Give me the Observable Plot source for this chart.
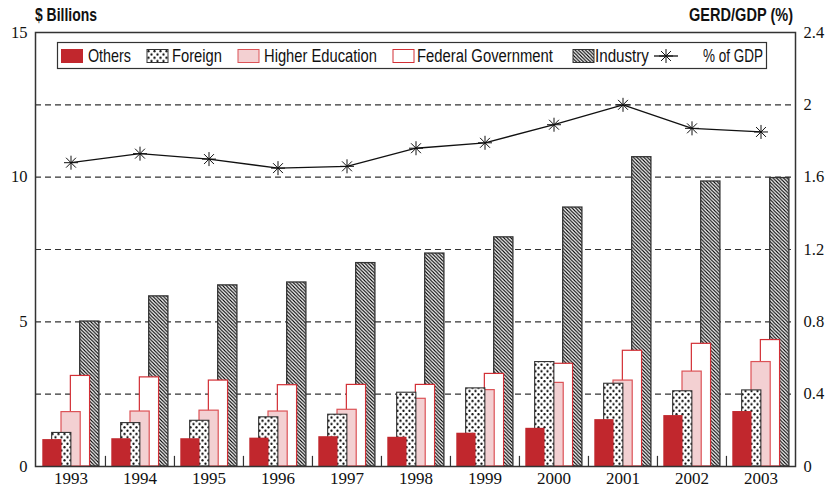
<!DOCTYPE html>
<html>
<head>
<meta charset="utf-8">
<script src="https://cdn.jsdelivr.net/npm/d3@7"></script>
<script src="https://cdn.jsdelivr.net/npm/@observablehq/plot@0.6"></script>
<style>
  html, body { margin: 0; padding: 0; background: white; }
  #chart { position: relative; width: 829px; height: 488px; }
  #chart svg { position: absolute; left: 0; top: 0; }
  #chart svg text { font-family: "Liberation Serif", "DejaVu Serif", serif !important; }
  #chart svg text.sans { font-family: "Liberation Sans Narrow", "Liberation Sans", "DejaVu Sans", sans-serif !important; }
</style>
</head>
<body>
<div id="chart"></div>
<script>
// ---- data ----
const years = ["1993","1994","1995","1996","1997","1998","1999","2000","2001","2002","2003"];
const others     = [0.93, 0.96, 0.96, 0.98, 1.03, 1.01, 1.15, 1.32, 1.62, 1.76, 1.90];
const foreign    = [1.16, 1.50, 1.58, 1.70, 1.79, 2.55, 2.70, 3.61, 2.86, 2.60, 2.63];
const higherEd   = [1.88, 1.90, 1.93, 1.90, 1.96, 2.34, 2.64, 2.89, 2.97, 3.28, 3.61];
const federalGov = [3.13, 3.08, 2.97, 2.81, 2.82, 2.82, 3.20, 3.55, 4.00, 4.24, 4.37];
const industry   = [5.01, 5.88, 6.26, 6.36, 7.03, 7.36, 7.92, 8.95, 10.69, 9.85, 9.97];
const gdpPct     = [1.68, 1.73, 1.70, 1.65, 1.66, 1.76, 1.79, 1.89, 2.00, 1.87, 1.85];

const seriesNames = ["Others", "Foreign", "Higher Education", "Federal Government", "Industry", "% of GDP"];
const leftTicks = [0, 5, 10, 15];
const gridTicks = [2.5, 5, 7.5, 10, 12.5];
const rightTicks = [0, 0.4, 0.8, 1.2, 1.6, 2, 2.4];
const leftTitle = "$ Billions";
const rightTitle = "GERD/GDP (%)";

const rows = years.map((year, i) => ({
  year, others: others[i], foreign: foreign[i], higherEd: higherEd[i],
  federalGov: federalGov[i], industry: industry[i], gdp: gdpPct[i]
}));

// ---- layout ----
const W = 829, H = 488;
const mL = 35, mR = 34, mT = 32, mB = 22;
const bw = (W - mL - mR) / years.length;
const barW = 19.3, off0 = 6.3, step = 9.35;

function bar(key, k, style) {
  const left = off0 + step * k;
  return Plot.barY(rows, {
    x: "year", y: key,
    insetLeft: left, insetRight: bw - left - barW,
    ...style
  });
}

const asterisk = {
  draw(ctx, size) {
    const r = Math.sqrt(size / Math.PI);
    for (let k = 0; k < 4; k++) {
      const a = k * Math.PI / 4;
      ctx.moveTo(r * Math.cos(a), r * Math.sin(a));
      ctx.lineTo(-r * Math.cos(a), -r * Math.sin(a));
    }
  }
};

const plot1 = Plot.plot({
  width: W, height: H,
  marginLeft: mL, marginRight: mR, marginTop: mT, marginBottom: mB,
  style: { color: "#111", background: "white" },
  x: { type: "band", domain: years, padding: 0 },
  y: { domain: [0, 15] },
  marks: [
    Plot.gridY(gridTicks, { stroke: "#333", strokeOpacity: 1, strokeDasharray: "6,4", strokeWidth: 1.1 }),
    bar("industry", 4, { fill: "url(#hatch)", stroke: "#333", strokeWidth: 1.3 }),
    bar("federalGov", 3, { fill: "white", stroke: "#d22f35", strokeWidth: 1.2 }),
    bar("higherEd", 2, { fill: "#f3d0d2", stroke: "#dc5357", strokeWidth: 1.2 }),
    bar("foreign", 1, { fill: "url(#dots)", stroke: "#333", strokeWidth: 1.1 }),
    bar("others", 0, { fill: "#c1272d" }),
    Plot.ruleX(years.slice(1), { x: d => d, y1: 0, y2: 0.35, dx: -bw / 2, stroke: "#333", strokeWidth: 1.2 }),
    Plot.axisY({ ticks: leftTicks, tickSize: 0, tickPadding: 8, fontSize: 16.5, label: null }),
    Plot.axisX({ tickSize: 0, tickPadding: 5, fontSize: 17, label: null }),
    Plot.frame({ stroke: "#333", strokeWidth: 1.5 })
  ]
});

const plot2 = Plot.plot({
  width: W, height: H,
  marginLeft: mL, marginRight: mR, marginTop: mT, marginBottom: mB,
  style: { color: "#111", background: "transparent" },
  x: { type: "band", domain: years, padding: 0, axis: null },
  y: { domain: [0, 2.4] },
  marks: [
    Plot.axisY({ anchor: "right", ticks: rightTicks, tickSize: 0, tickPadding: 8, fontSize: 16.5, tickFormat: d => String(d), label: null }),
    Plot.lineY(rows, { x: "year", y: "gdp", stroke: "#111", strokeWidth: 1.3 }),
    Plot.dot(rows, { x: "year", y: "gdp", symbol: asterisk, r: 7, stroke: "#111", strokeWidth: 1, fill: "none" })
  ]
});

const chart = document.getElementById("chart");
chart.appendChild(plot1);
chart.appendChild(plot2);
plot2.style.pointerEvents = "none";

// ---- patterns, titles, legend ----
const svg = d3.select(plot1);
const defs = svg.insert("defs", ":first-child");
const dots = defs.append("pattern").attr("id", "dots").attr("patternUnits", "userSpaceOnUse")
  .attr("width", 6).attr("height", 6.6);
dots.append("rect").attr("width", 6).attr("height", 6.6).attr("fill", "white");
dots.append("circle").attr("cx", 1.5).attr("cy", 1.6).attr("r", 1.15).attr("fill", "#111");
dots.append("circle").attr("cx", 4.5).attr("cy", 4.9).attr("r", 1.15).attr("fill", "#111");
const hatch = defs.append("pattern").attr("id", "hatch").attr("patternUnits", "userSpaceOnUse")
  .attr("width", 3.5).attr("height", 3.5);
hatch.append("rect").attr("width", 3.5).attr("height", 3.5).attr("fill", "white");
hatch.append("path").attr("d", "M-1,-1 L4.5,4.5 M-1,2.5 L1,4.5 M2.5,-1 L4.5,1")
  .attr("stroke", "#000").attr("stroke-width", 1.1);

// condense a sans text to a target width if the narrow face is missing
function fit(sel, target) {
  const node = sel.node();
  const w = node.getComputedTextLength();
  if (w > target * 1.04) {
    const x = +sel.attr("x");
    const s = target / w;
    sel.attr("transform", `translate(${x},0) scale(${s},1) translate(${-x},0)`);
  }
  return sel;
}

function sansText(parent, x, y, str, opts = {}) {
  const t = parent.append("text").attr("class", "sans").attr("x", x).attr("y", y)
    .attr("text-anchor", opts.anchor || "start")
    .attr("font-size", opts.size || 18).attr("fill", "#111")
    .attr("font-weight", opts.bold ? "bold" : "normal").text(str);
  if (opts.width) fit(t, opts.width);
  return t;
}

sansText(svg, 35, 21.5, leftTitle, { bold: true, width: 62 });
sansText(svg, 793, 21.5, rightTitle, { bold: true, width: 104, anchor: "end" });

const lg = svg.append("g");
lg.append("rect").attr("x", 57.5).attr("y", 42.5).attr("width", 709).attr("height", 26)
  .attr("fill", "white").attr("stroke", "#333").attr("stroke-width", 1.2);
const items = [
  { x: 61.5, fill: "#c1272d", stroke: "#c1272d", tx: 88, tw: 43 },
  { x: 147, fill: "url(#dots)", stroke: "#333", tx: 172, tw: 50 },
  { x: 238, fill: "#f3d0d2", stroke: "#dc5357", tx: 264, tw: 113 },
  { x: 393, fill: "white", stroke: "#d22f35", tx: 417, tw: 136 },
  { x: 573, fill: "url(#hatch)", stroke: "#333", tx: 595, tw: 54 }
];
items.forEach((it, i) => {
  lg.append("rect").attr("x", it.x).attr("y", 49.5).attr("width", 21).attr("height", 13)
    .attr("fill", it.fill).attr("stroke", it.stroke).attr("stroke-width", 1);
  sansText(lg, it.tx, 62.5, seriesNames[i], { width: it.tw });
});
lg.append("line").attr("x1", 654).attr("x2", 678).attr("y1", 56).attr("y2", 56)
  .attr("stroke", "#111").attr("stroke-width", 1.3);
const starPath = d3.symbol(asterisk, Math.PI * 49)();
lg.append("path").attr("d", starPath).attr("transform", "translate(666,56)")
  .attr("fill", "none").attr("stroke", "#111").attr("stroke-width", 1);
sansText(lg, 703, 62.5, seriesNames[5], { width: 60 });
</script>
</body>
</html>
